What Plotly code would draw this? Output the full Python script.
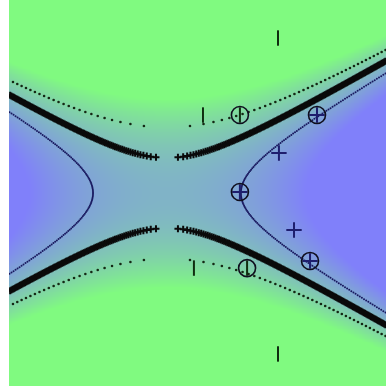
import numpy as np
import plotly.graph_objects as go

# Training data (two classes) in the unit square [-1, 1] x [-1, 1]
pos_x = [0.432, 0.512, 0.634, 0.225, 0.597]
pos_y = [0.207, -0.192, 0.404, 0.005, -0.352]
neg_x = [0.427, 0.427, 0.029, -0.019, 0.225, 0.263]
neg_y = [0.803, -0.834, 0.404, -0.389, 0.404, -0.389]

# Support vectors (circled)
sv_x = [0.634, 0.225, 0.597, 0.225, 0.263]
sv_y = [0.404, 0.005, -0.352, 0.404, -0.389]

# Quadratic (degree-2 polynomial kernel) decision function coefficients
coef_xx = 3.9
coef_yy = -12.1
centre_x = -0.162
centre_y = 0.0
bias = 0.40


def decision(x, y):
    return coef_xx * (x - centre_x) ** 2 + coef_yy * (y - centre_y) ** 2 + bias


# Background shading of the decision value
gx = np.linspace(-1, 1, 240)
gy = np.linspace(-1, 1, 240)
GX, GY = np.meshgrid(gx, gy)
Z = decision(GX, GY)

green = "rgb(128,250,128)"
blue = "rgb(128,128,250)"

fig = go.Figure()
fig.add_trace(go.Heatmap(
    x=gx, y=gy, z=Z, zmin=-2.5, zmax=2.5, zsmooth="best",
    colorscale=[[0, green], [1, blue]], showscale=False, hoverinfo="skip",
))


# Level-set points: sign changes of (f - level) along each scan row
def row_crossings(level, n_rows):
    xs = np.linspace(-1, 1, 1600)
    ys = np.linspace(-1, 1, n_rows)
    out_x, out_y = [], []
    for yv in ys:
        v = decision(xs, yv) - level
        idx = np.where(np.sign(v[:-1]) != np.sign(v[1:]))[0]
        for i in idx:
            t = v[i] / (v[i] - v[i + 1])
            out_x.append(xs[i] + t * (xs[i + 1] - xs[i]))
            out_y.append(yv)
    return out_x, out_y


bx, by = row_crossings(0.0, 580)
mx, my = row_crossings(-1.0, 194)
px_, py_ = row_crossings(1.0, 290)

fig.add_trace(go.Scatter(
    x=px_, y=py_, mode="markers", hoverinfo="skip",
    marker=dict(symbol="circle", size=2, color="rgb(25,25,95)"),
))
fig.add_trace(go.Scatter(
    x=mx, y=my, mode="markers", hoverinfo="skip",
    marker=dict(symbol="circle", size=2.6, color="rgb(20,40,20)"),
))
fig.add_trace(go.Scatter(
    x=bx, y=by, mode="markers", hoverinfo="skip",
    marker=dict(symbol="cross-thin", size=5,
                line=dict(width=2, color="rgb(10,10,10)")),
))

# Data points
fig.add_trace(go.Scatter(
    x=pos_x, y=pos_y, mode="markers",
    marker=dict(symbol="cross-thin", size=11,
                line=dict(width=2, color="rgb(30,30,110)")),
))
fig.add_trace(go.Scatter(
    x=neg_x, y=neg_y, mode="markers",
    marker=dict(symbol="line-ns", size=11,
                line=dict(width=2, color="rgb(15,45,15)")),
))
fig.add_trace(go.Scatter(
    x=sv_x, y=sv_y, mode="markers",
    marker=dict(symbol="circle-open", size=17, color="rgb(15,15,30)",
                line=dict(width=1.6, color="rgb(15,15,30)")),
))

fig.update_layout(
    width=386, height=387,
    margin=dict(l=9, r=0, t=0, b=1),
    paper_bgcolor="white", plot_bgcolor="white",
    showlegend=False,
    xaxis=dict(range=[-1, 1], visible=False, showgrid=False, zeroline=False),
    yaxis=dict(range=[-1, 1], visible=False, showgrid=False, zeroline=False),
)

fig.write_html("out.html")
